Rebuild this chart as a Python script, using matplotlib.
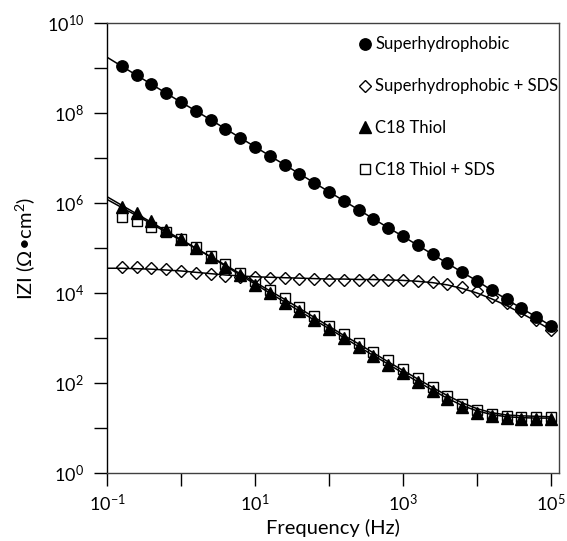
import matplotlib
matplotlib.use("Agg")
import matplotlib.pyplot as plt
import matplotlib.ticker as mticker
import numpy as np

plt.rcParams["font.family"] = ["Lato", "DejaVu Sans"]
plt.rcParams["mathtext.fontset"] = "custom"
plt.rcParams["mathtext.rm"] = "Lato"

# measured frequencies (Hz)
freq = [0.158, 0.251, 0.398, 0.631, 1.0, 1.58, 2.51, 3.98, 6.31, 10,
        15.8, 25.1, 39.8, 63.1, 100, 158, 251, 398, 631, 1000,
        1580, 2510, 3980, 6310, 1.0e4, 1.58e4, 2.51e4, 3.98e4, 6.31e4, 1.0e5]

# log10 |Z|
logz_sh = [9.04, 8.84, 8.64, 8.44, 8.24, 8.05, 7.85, 7.65, 7.45, 7.25,
           7.05, 6.85, 6.65, 6.45, 6.25, 6.05, 5.85, 5.65, 5.45, 5.26,
           5.06, 4.86, 4.66, 4.46, 4.27, 4.06, 3.86, 3.66, 3.47, 3.27]
logz_sh_sds = [4.57, 4.57, 4.55, 4.53, 4.50, 4.45, 4.42, 4.38, 4.36, 4.35,
               4.34, 4.33, 4.32, 4.31, 4.30, 4.30, 4.29, 4.29, 4.29, 4.29,
               4.27, 4.25, 4.20, 4.14, 4.04, 3.92, 3.77, 3.60, 3.40, 3.18]
logz_thiol = [5.92, 5.77, 5.61, 5.40, 5.19, 4.99, 4.81, 4.58, 4.39, 4.18,
              3.99, 3.78, 3.59, 3.40, 3.20, 3.01, 2.81, 2.60, 2.41, 2.22,
              2.03, 1.83, 1.64, 1.46, 1.34, 1.27, 1.22, 1.21, 1.21, 1.21]
logz_thiol_sds = [5.70, 5.59, 5.46, 5.35, 5.19, 5.02, 4.82, 4.64, 4.45, 4.27,
                  4.07, 3.88, 3.70, 3.49, 3.27, 3.08, 2.88, 2.68, 2.51, 2.32,
                  2.11, 1.92, 1.72, 1.53, 1.40, 1.31, 1.26, 1.25, 1.25, 1.25]

# fitted curves (start at 0.1 Hz)
fit_freq = [0.1] + freq
fit_sh = [9.24, 9.04, 8.84, 8.64, 8.44, 8.24, 8.05, 7.85, 7.65, 7.45, 7.25,
          7.05, 6.85, 6.65, 6.45, 6.25, 6.05, 5.85, 5.65, 5.45, 5.26,
          5.06, 4.86, 4.66, 4.46, 4.27, 4.06, 3.86, 3.66, 3.47, 3.27]
fit_sh_sds = [4.55, 4.55, 4.54, 4.53, 4.51, 4.49, 4.46, 4.43, 4.40, 4.38, 4.36,
              4.35, 4.34, 4.33, 4.32, 4.31, 4.31, 4.30, 4.30, 4.29, 4.28,
              4.26, 4.23, 4.18, 4.10, 4.00, 3.87, 3.72, 3.55, 3.37, 3.18]
fit_thiol = [6.14, 5.95, 5.76, 5.57, 5.38, 5.19, 5.00, 4.80, 4.60, 4.40, 4.20,
             4.00, 3.80, 3.60, 3.40, 3.21, 3.01, 2.81, 2.61, 2.42, 2.22,
             2.03, 1.84, 1.66, 1.50, 1.38, 1.30, 1.25, 1.23, 1.22, 1.22]
fit_thiol_sds = [6.08, 5.90, 5.72, 5.54, 5.35, 5.17, 4.99, 4.81, 4.62, 4.43, 4.24,
                 4.05, 3.86, 3.66, 3.46, 3.26, 3.06, 2.87, 2.67, 2.47, 2.28,
                 2.09, 1.90, 1.72, 1.56, 1.43, 1.34, 1.29, 1.27, 1.26, 1.25]

fig = plt.figure(figsize=(5.67, 5.41), dpi=100)
ax = fig.add_axes([107 / 567, 68 / 541, 452 / 567, 450 / 541])

ms = 7.8
ax.plot(freq, 10 ** np.array(logz_thiol_sds), ls="none", marker="s", ms=ms,
        mfc="white", mec="black", mew=1, label="C18 Thiol + SDS", zorder=3)
ax.plot(freq, 10 ** np.array(logz_thiol), ls="none", marker="^", ms=ms + 0.6,
        color="black", label="C18 Thiol", zorder=4)
ax.plot(freq, 10 ** np.array(logz_sh_sds), ls="none", marker="D", ms=6.4,
        mfc="white", mec="black", mew=1, label="Superhydrophobic + SDS", zorder=3)
ax.plot(freq, 10 ** np.array(logz_sh), ls="none", marker="o", ms=ms + 0.4,
        color="black", label="Superhydrophobic", zorder=4)

for fit in [fit_sh, fit_sh_sds, fit_thiol, fit_thiol_sds]:
    ax.plot(fit_freq, 10 ** np.array(fit), color="black", lw=1.1, zorder=5)

ax.set_xscale("log")
ax.set_yscale("log")
ax.set_xlim(0.1, 10 ** 5.108)
ax.set_ylim(1, 1e10)

ax.xaxis.set_major_locator(mticker.LogLocator(base=10, numticks=20))
ax.yaxis.set_major_locator(mticker.LogLocator(base=10, numticks=20))
ax.xaxis.set_minor_locator(mticker.NullLocator())
ax.yaxis.set_minor_locator(mticker.NullLocator())

def fmt_x(v, pos):
    e = int(round(np.log10(v)))
    return r"$\mathregular{10^{%d}}$" % e if e % 2 != 0 else ""

def fmt_y(v, pos):
    e = int(round(np.log10(v)))
    return r"$\mathregular{10^{%d}}$" % e if e % 2 == 0 else ""

ax.xaxis.set_major_formatter(mticker.FuncFormatter(fmt_x))
ax.yaxis.set_major_formatter(mticker.FuncFormatter(fmt_y))
ax.tick_params(which="major", direction="out", length=9.5, width=1,
               labelsize=13)
ax.tick_params(axis="y", pad=7)
ax.tick_params(axis="x", pad=5)
for s in ax.spines.values():
    s.set_linewidth(1)
ax.spines["bottom"].set_color("#404040")
ax.spines["right"].set_color("#404040")
ax.spines["top"].set_color("#404040")

ax.set_xlabel("Frequency (Hz)", fontsize=14.5, labelpad=3)
ax.set_ylabel("IZI (Ω•cm$^2$)", fontsize=14.5, labelpad=6)

h, l = ax.get_legend_handles_labels()
order = [3, 2, 1, 0]
ax.legend([h[i] for i in order], [l[i] for i in order], loc="upper left",
          bbox_to_anchor=(0.56, 0.97), frameon=False, fontsize=12,
          handlelength=0.6, handletextpad=0.3, labelspacing=1.55,
          borderaxespad=0, borderpad=0)

fig.savefig("out.png", dpi=100)
